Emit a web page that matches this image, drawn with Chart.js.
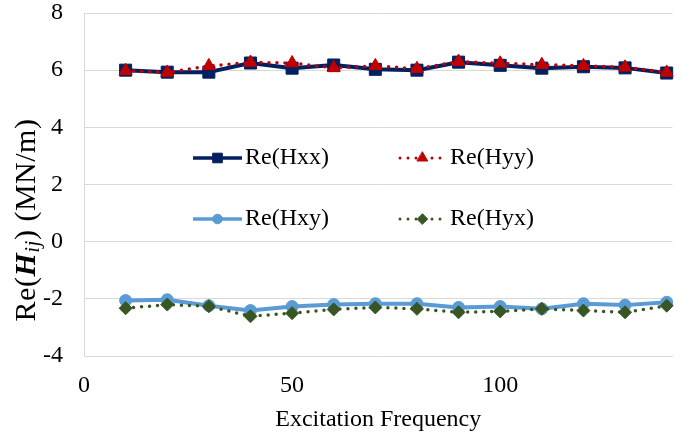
<!DOCTYPE html>
<html>
<head>
<meta charset="utf-8">
<script src="https://cdn.jsdelivr.net/npm/chart.js@4.4.1/dist/chart.umd.min.js"></script>
<style>
  html, body { margin: 0; padding: 0; background: #fff; }
  #wrap { width: 682px; height: 435px; }
</style>
</head>
<body>
<div id="wrap"><canvas id="chart" width="682" height="435"></canvas></div>
<script>
// excitation frequencies and the real part of each stiffness term (MN/m)
const frequencies = [10, 20, 30, 40, 50, 60, 70, 80, 90, 100, 110, 120, 130, 140];
const reHxx = [6.00, 5.93, 5.93, 6.25, 6.07, 6.18, 6.03, 6.00, 6.28, 6.17, 6.07, 6.12, 6.08, 5.90];
const reHyy = [5.98, 5.92, 6.15, 6.27, 6.25, 6.08, 6.15, 6.05, 6.30, 6.24, 6.19, 6.15, 6.10, 5.92];
const reHxy = [-2.06, -2.03, -2.24, -2.41, -2.27, -2.20, -2.17, -2.17, -2.30, -2.27, -2.35, -2.17, -2.22, -2.12];
const reHyx = [-2.33, -2.20, -2.26, -2.61, -2.50, -2.37, -2.30, -2.35, -2.47, -2.44, -2.35, -2.41, -2.47, -2.24];

const seriesNames = ['Re(Hxx)', 'Re(Hyy)', 'Re(Hxy)', 'Re(Hyx)'];
const xTicks = [0, 50, 100];

const SERIF = '"Liberation Serif", "Times New Roman", serif';

const toPoints = ys => ys.map((y, i) => ({ x: frequencies[i], y: y }));

function series(name, values, color, style, radius, dotted, order) {
    return {
        label: name,
        data: toPoints(values),
        showLine: true,
        borderColor: color,
        backgroundColor: color,
        borderWidth: dotted ? 3.5 : 4,
        borderDash: dotted ? [0, 8] : [],
        borderCapStyle: dotted ? 'round' : 'butt',
        borderJoinStyle: 'round',
        pointStyle: style,
        pointRadius: radius,
        pointBorderWidth: 1,
        pointBorderColor: color,
        pointBackgroundColor: color,
        tension: 0,
        clip: false,
        order: order
    };
}

// legend sits inside the plot, two columns by two rows
const legendBox = {
    id: 'legendBox',
    afterDatasetsDraw(chart) {
        const ctx = chart.ctx;
        const cols = [193, 398];
        const rows = [158, 219];
        chart.data.datasets.forEach((ds, i) => {
            const x0 = cols[i % 2];
            const y = rows[Math.floor(i / 2)];
            const len = 49;
            ctx.save();
            ctx.strokeStyle = ds.borderColor;
            ctx.lineWidth = ds.borderDash.length ? 3 : 3.5;
            ctx.setLineDash(ds.borderDash);
            ctx.lineCap = ds.borderCapStyle;
            ctx.beginPath();
            ctx.moveTo(x0 + (ds.borderDash.length ? 2 : 0), y);
            ctx.lineTo(x0 + len, y);
            ctx.stroke();
            ctx.setLineDash([]);
            ctx.fillStyle = ds.borderColor;
            ctx.strokeStyle = ds.borderColor;
            ctx.lineWidth = 1;
            Chart.helpers.drawPoint(ctx, {
                pointStyle: ds.pointStyle,
                radius: ds.pointRadius * 0.8,
                borderWidth: 1,
                rotation: 0
            }, x0 + len / 2, y);
            ctx.fillStyle = '#000';
            ctx.font = '24px ' + SERIF;
            ctx.textBaseline = 'middle';
            ctx.textAlign = 'left';
            ctx.fillText(ds.label, x0 + len + 3, y);
            ctx.restore();
        });
    }
};

// y title with bold italic H and italic subscript ij
const yTitle = {
    id: 'yTitle',
    afterDraw(chart) {
        const ctx = chart.ctx;
        const size = 30;
        const parts = [
            { t: 'Re(', f: size + 'px ' + SERIF, dy: 0 },
            { t: 'H', f: 'italic bold ' + size + 'px ' + SERIF, dy: 0 },
            { t: 'ij', f: 'italic ' + Math.round(size * 0.7) + 'px ' + SERIF, dy: size * 0.22 },
            { t: ') (MN/m)', f: size + 'px ' + SERIF, dy: 0 }
        ];
        ctx.save();
        ctx.letterSpacing = '0.5px';
        let total = 0;
        parts.forEach(p => { ctx.font = p.f; p.w = ctx.measureText(p.t).width; total += p.w; });
        ctx.translate(27, 220);
        ctx.rotate(-Math.PI / 2);
        ctx.fillStyle = '#000';
        ctx.textBaseline = 'middle';
        ctx.textAlign = 'left';
        let x = -total / 2;
        parts.forEach(p => {
            ctx.font = p.f;
            ctx.fillText(p.t, x, p.dy);
            x += p.w;
        });
        ctx.restore();
    }
};

new Chart(document.getElementById('chart').getContext('2d'), {
    type: 'scatter',
    data: {
        datasets: [
            series(seriesNames[0], reHxx, '#002060', 'rect', 8.5, false, 4),
            series(seriesNames[1], reHyy, '#c00000', 'triangle', 7.5, true, 3),
            series(seriesNames[2], reHxy, '#5b9bd5', 'circle', 6, false, 2),
            series(seriesNames[3], reHyx, '#375623', 'rectRot', 6.5, true, 1)
        ]
    },
    options: {
        responsive: false,
        animation: false,
        devicePixelRatio: 1,
        layout: { padding: { top: 13, right: 0, bottom: 0, left: 0 } },
        plugins: {
            legend: { display: false },
            tooltip: { enabled: false }
        },
        scales: {
            x: {
                type: 'linear',
                min: 0,
                max: 141.4,
                grid: { display: false, drawTicks: false },
                border: { display: true, color: '#d9d9d9', width: 1 },
                afterBuildTicks: s => { s.ticks = xTicks.map(v => ({ value: v })); },
                ticks: {
                    font: { family: SERIF, size: 24, lineHeight: 1 },
                    color: '#000',
                    padding: 18,
                    maxRotation: 0
                },
                title: {
                    display: true,
                    text: 'Excitation Frequency',
                    font: { family: SERIF, size: 24 },
                    color: '#000',
                    padding: { top: 0, bottom: 1 }
                },
                afterFit: s => { s.height = 79; s.paddingLeft = 0; s.paddingRight = 0; }
            },
            y: {
                min: -4,
                max: 8,
                grid: { color: '#d9d9d9', lineWidth: 1, drawTicks: false },
                border: { display: true, color: '#d9d9d9', width: 1 },
                ticks: {
                    stepSize: 2,
                    font: { family: SERIF, size: 24, lineHeight: 1 },
                    color: '#000',
                    padding: 21
                },
                afterFit: s => { s.width = 84; s.paddingTop = 0; s.paddingBottom = 0; }
            }
        }
    },
    plugins: [legendBox, yTitle]
});
</script>
</body>
</html>
